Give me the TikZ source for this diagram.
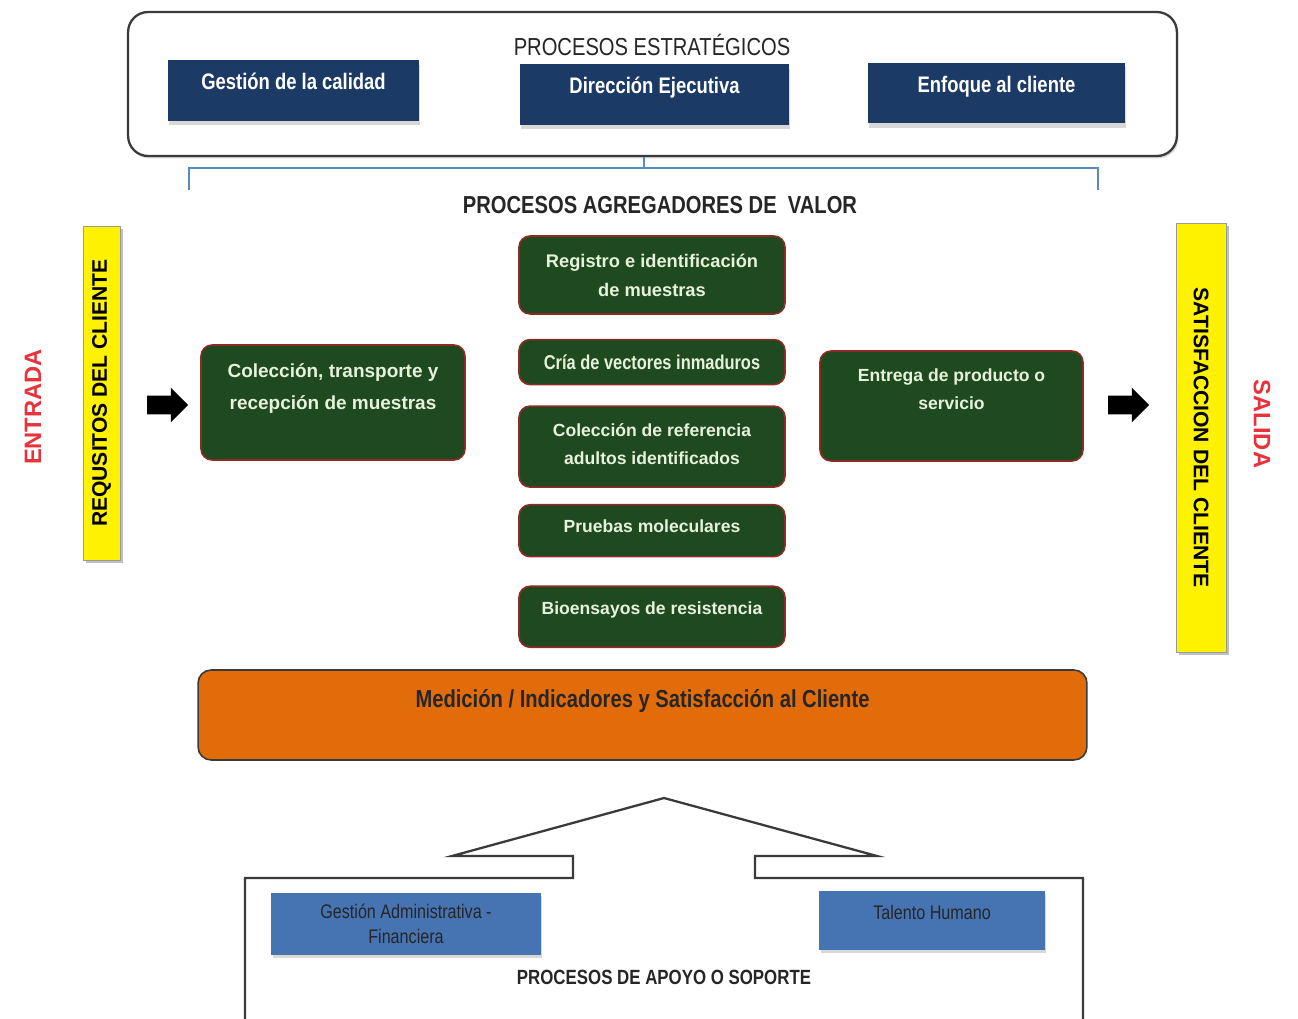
\documentclass[tikz,border=0pt]{standalone}
\usepackage{fontspec}
\setmainfont{Liberation Sans}
\newfontfamily\narrowfont{Liberation Sans}[FakeStretch=0.82]
\usetikzlibrary{positioning,shadows,shapes.arrows}
\definecolor{navy}{HTML}{1B3A66}
\definecolor{procgreen}{HTML}{1F4A1F}
\definecolor{greenedge}{HTML}{8E2B25}
\definecolor{greentext}{HTML}{E6F2DC}
\definecolor{bracketblue}{HTML}{5A88C2}
\definecolor{supblue}{HTML}{4673B1}
\definecolor{medorange}{HTML}{E36C0A}
\definecolor{frameedge}{HTML}{3A3A3A}
\definecolor{barshade}{HTML}{9A9A9A}
\definecolor{iored}{HTML}{E8323C}
\definecolor{headgray}{HTML}{262626}

\begin{document}
\begin{tikzpicture}[
  x=0.02cm, y=-0.02cm,
  strat/.style={fill=navy, text=white, font=\narrowfont\bfseries\fontsize{12.8}{15}\selectfont,
                minimum height=1.22cm, text depth=0.36cm,
                drop shadow={shadow xshift=0.2mm, shadow yshift=-0.9mm, opacity=0.3}},
  valbox/.style={draw=greenedge, line width=0.9pt, fill=procgreen, text=greentext,
                 rounded corners=0.22cm, align=center, minimum width=5.32cm,
                 font=\bfseries\fontsize{10}{16}\selectfont},
  yellowbar/.style={fill=yellow, draw=barshade, line width=0.4pt, inner sep=0pt,
                    font=\bfseries\fontsize{12}{14}\selectfont,
                    drop shadow={shadow xshift=0.6mm, shadow yshift=-0.6mm, opacity=0.5}},
  iolabel/.style={text=iored, font=\bfseries\fontsize{13.5}{15}\selectfont},
  blockarrow/.style={single arrow, fill=black, inner xsep=0pt, inner ysep=0.18cm,
                     minimum height=0.82cm, single arrow head extend=0.16cm},
  support/.style={fill=supblue, text=black!85, align=center,
                  font=\narrowfont\fontsize{11.2}{14.2}\selectfont,
                  drop shadow={shadow xshift=0.3mm, shadow yshift=-0.6mm, opacity=0.3}},
  heading/.style={font=\narrowfont\fontsize{14}{16}\selectfont, text=headgray},
  bracket/.style={draw=bracketblue, line width=1.3pt},
  frameline/.style={draw=frameedge, line width=1.3pt},
]
\useasboundingbox (0,0) rectangle (1298,1018);

\node[frameline, fill=white, rounded corners=0.4cm, minimum width=20.98cm, minimum height=2.88cm,
      drop shadow={shadow xshift=0.3mm, shadow yshift=-0.5mm, opacity=0.3}] (estr) at (652.5,84) {};
\node[heading] (strattitle) at (652,45) {PROCESOS ESTRATÉGICOS};
\node[strat, minimum width=5.02cm] (calidad) at (293.5,90.5) {Gestión de la calidad};
\node[strat, minimum width=5.38cm] (direccion) at (654.5,94.5) {Dirección Ejecutiva};
\node[strat, minimum width=5.14cm] (enfoque) at (996.5,93) {Enfoque al cliente};

\coordinate (bracktop) at (644,168);
\draw[bracket] (bracktop |- estr.south) -- (bracktop);
\draw[bracket] (189,190) -- (189,168) -- (1098,168) -- (1098,190);
\node[heading, font=\narrowfont\bfseries\fontsize{14}{16}\selectfont] (valtitle) at (660,205) {PROCESOS AGREGADORES DE \ VALOR};

\node[iolabel] (entrada) at (33,407) {\rotatebox{90}{ENTRADA}};
\node[yellowbar, minimum width=0.74cm, minimum height=6.68cm] (reqbar) at (101.5,393) {\rotatebox{90}{REQUSITOS DEL CLIENTE}};
\node[blockarrow] (arrin) at (163,405) {};
\node[valbox, minimum width=5.28cm, minimum height=2.3cm, text depth=0.64cm,
      font=\bfseries\fontsize{10.8}{18.5}\selectfont] (coleccion) at (333,402.5) {Colección, transporte y\\recepción de muestras};

\node[valbox, minimum height=1.56cm, font=\bfseries\fontsize{10.4}{16.4}\selectfont] (registro) at (652,275) {Registro e identificación\\de muestras};
\node[valbox, minimum height=0.9cm, below=0.48cm of registro, font=\narrowfont\bfseries\fontsize{11.4}{14}\selectfont] (cria) {Cría de vectores inmaduros};
\node[valbox, minimum height=1.62cm, below=0.4cm of cria, text depth=0.12cm] (referencia) {Colección de referencia\\adultos identificados};
\node[valbox, minimum height=1.04cm, below=0.32cm of referencia, text depth=0.2cm] (pruebas) {Pruebas moleculares};
\node[valbox, minimum height=1.22cm, below=0.56cm of pruebas, text depth=0.36cm] (bioensayos) {Bioensayos de resistencia};

\node[valbox, minimum width=5.26cm, minimum height=2.2cm, text depth=0.68cm,
      font=\bfseries\fontsize{10}{16}\selectfont] (entrega) at (951.5,406) {Entrega de producto o\\servicio};
\node[blockarrow] (arrout) at (1124,405) {};
\node[yellowbar, minimum width=1cm, minimum height=8.58cm] (satbar) at (1201,437.5) {\rotatebox{-90}{SATISFACCION DEL CLIENTE}};
\node[iolabel] (salida) at (1262,424) {\rotatebox{-90}{SALIDA}};

\node[fill=medorange, draw=frameedge, line width=0.9pt, rounded corners=0.26cm,
      minimum width=17.78cm, minimum height=1.8cm, text depth=0.68cm, text=headgray,
      font=\narrowfont\bfseries\fontsize{14}{16}\selectfont] (medicion) at (642.5,715) {Medición / Indicadores y Satisfacción al Cliente};

\draw[frameline, fill=white] (245,1025) -- (245,878) -- (573,878) -- (573,856) -- (452,856) -- (664,798)
  -- (877,856) -- (755,856) -- (755,878) -- (1083,878) -- (1083,1025);
\node[support, minimum width=5.4cm, minimum height=1.24cm] (admin) at (406,924) {Gestión Administrativa -\\Financiera};
\node[support, minimum width=4.52cm, minimum height=1.18cm, text depth=0.32cm] (talento) at (932,920.5) {Talento Humano};
\node[heading, font=\narrowfont\bfseries\fontsize{11.7}{14}\selectfont] (apoyo) at (664,977) {PROCESOS DE APOYO O SOPORTE};
\end{tikzpicture}
\end{document}
